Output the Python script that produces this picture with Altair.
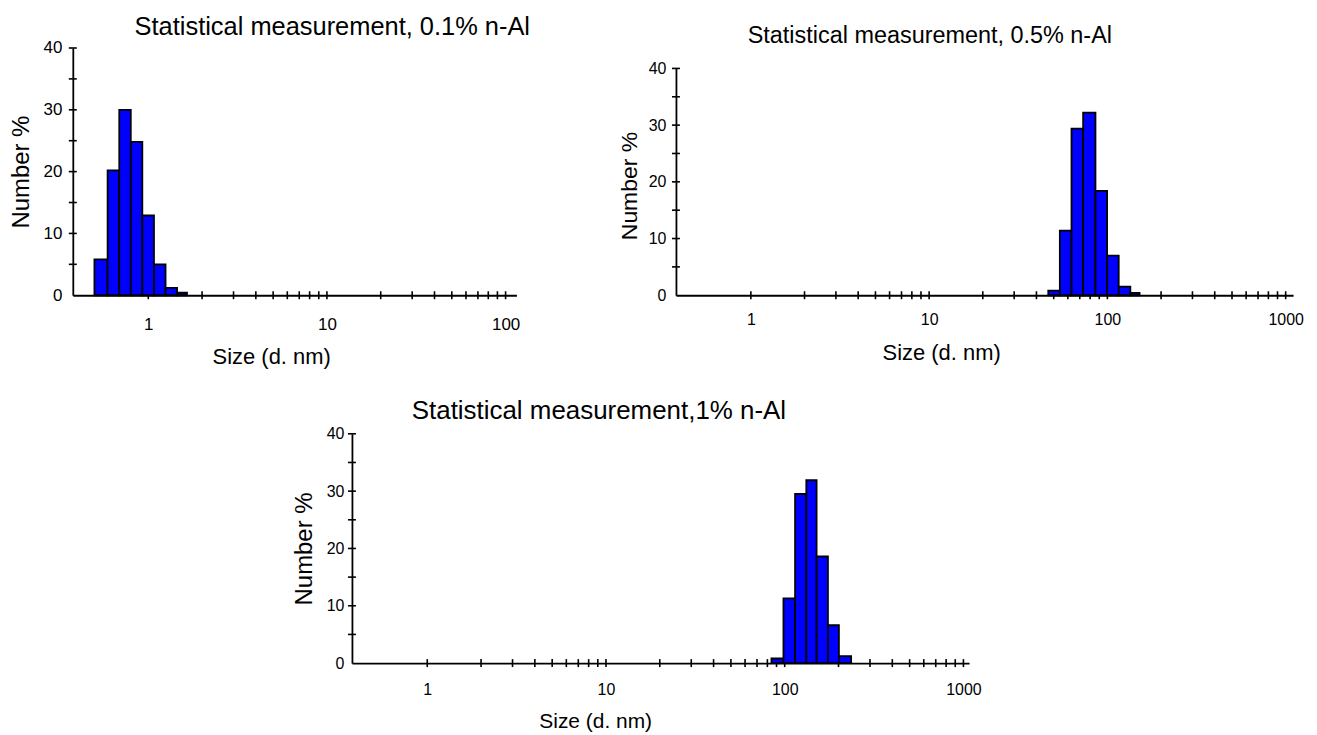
import altair as alt
import pandas as pd

FONT = "Liberation Sans"
BLUE = "#0000ff"

# ---- data ----
titles = [
    "Statistical measurement, 0.1% n-Al",
    "Statistical measurement, 0.5% n-Al",
    "Statistical measurement,1% n-Al",
]
# bin edges (d. nm) and Number % per bin
p1_edges = [0.4995, 0.592, 0.688, 0.798, 0.926, 1.076, 1.249, 1.449, 1.647]
p1_number = [5.8, 20.2, 30.0, 24.8, 12.9, 5.0, 1.2, 0.4]
p2_edges = [46.6, 54.1, 62.9, 73.1, 85.7, 99.6, 115.7, 134.5, 151.5]
p2_number = [0.8, 11.4, 29.4, 32.2, 18.4, 7.0, 1.5, 0.4]
p3_edges = [84.3, 98.4, 114.3, 132.1, 150.8, 174.5, 201.0, 235.3]
p3_number = [0.8, 11.3, 29.5, 31.9, 18.6, 6.6, 1.2]

x_domain_1 = [0.378, 115]
x_domain_2 = [0.38, 1100]
x_domain_3 = [0.379, 1075]

x_labels_1 = [1, 10, 100]
x_labels_2 = [1, 10, 100, 1000]
x_ticks_1 = [1, 2, 3, 4, 5, 6, 7, 8, 9, 10, 20, 30, 40, 50, 60, 70, 80, 90, 100]
x_ticks_2 = x_ticks_1 + [200, 300, 400, 500, 600, 700, 800, 900, 1000]
y_labels = [0, 10, 20, 30, 40]
y_ticks = [5, 10, 15, 20, 25, 30, 35, 40]


def panel(edges, number, x_domain, x_labels, x_ticks, width, height, y_range,
          title, t_dx, t_off, t_dy, t_size,
          xl_pad, xt_x, xt_y, xt_size, yl_pad, yt_x, yt_y, yt_size, lab_size):
    df = pd.DataFrame({"lo": edges[:-1], "hi": edges[1:], "n": number})
    xs = alt.Scale(type="log", domain=x_domain, nice=False)
    if y_range is None:
        ys = alt.Scale(domain=[0, 40], nice=False, zero=True)
    else:
        ys = alt.Scale(domain=[0, 40], nice=False, zero=True, range=y_range)

    x_axis = alt.Axis(
        values=x_labels, format="d", ticks=False, grid=False,
        domain=True, domainColor="black", domainWidth=1.8,
        labelFontSize=lab_size, labelPadding=xl_pad, labelColor="black",
        labelFont=FONT, labelFlush=False,
        title="Size (d. nm)", titleFont=FONT, titleFontSize=xt_size,
        titleFontWeight="normal", titleColor="black",
        titleX=xt_x, titleY=xt_y, titleAlign="center", titleBaseline="middle",
    )
    y_axis = alt.Axis(
        values=y_labels, format="d", ticks=False, grid=False,
        domain=True, domainColor="black", domainWidth=1.8,
        labelFontSize=lab_size, labelPadding=yl_pad, labelColor="black",
        labelFont=FONT,
        title="Number %", titleFont=FONT, titleFontSize=yt_size,
        titleFontWeight="normal", titleColor="black",
        titleX=yt_x, titleY=yt_y, titleAngle=270, titleAlign="center",
        titleBaseline="middle",
    )

    bars = alt.Chart(df).mark_rect(
        fill=BLUE, stroke="black", strokeWidth=1.8
    ).encode(
        x=alt.X("lo:Q", scale=xs, axis=x_axis),
        x2="hi:Q",
        y=alt.Y("n:Q", scale=ys, axis=y_axis),
        y2=alt.Y2(datum=0),
    )
    xt = alt.Chart(pd.DataFrame({"v": x_ticks})).mark_tick(
        orient="vertical", size=8, thickness=1.6, color="black", opacity=1
    ).encode(
        x=alt.X("v:Q", scale=xs, axis=x_axis),
        y=alt.Y(datum=0, type="quantitative", scale=ys, axis=y_axis),
    )
    yt = alt.Chart(pd.DataFrame({"v": y_ticks})).mark_tick(
        orient="horizontal", size=8, thickness=1.6, color="black", opacity=1
    ).encode(
        y=alt.Y("v:Q", scale=ys, axis=y_axis),
        x=alt.X(datum=x_domain[0], type="quantitative", scale=xs, axis=x_axis),
    )
    return alt.layer(xt, yt, bars).properties(
        width=width, height=height,
        title=alt.TitleParams(
            text=title, anchor="start", dx=t_dx, dy=t_dy, offset=t_off,
            frame="group", baseline="alphabetic", fontSize=t_size,
            fontWeight="normal", font=FONT, color="black",
        ),
    )


p1 = panel(p1_edges, p1_number, x_domain_1, x_labels_1, x_ticks_1,
           445, 248, None, titles[0], 62, 11, 32, 25.5,
           21, 199, 61, 22, 11, -51, 124, 24, 17)
p2 = panel(p2_edges, p2_number, x_domain_2, x_labels_2, x_ticks_2,
           619, 248, [248, 20.5], titles[1], 72, 3, 21, 23.5,
           16, 266, 57, 22, 10, -47, 138, 23, 16)
p3 = panel(p3_edges, p3_number, x_domain_3, x_labels_2, x_ticks_2,
           619, 230, None, titles[2], 60, 12.7, 32, 26,
           18, 244, 59, 21, 8, -48, 115, 24, 16)

spacer = alt.Chart(pd.DataFrame({"v": [0]})).mark_point(opacity=0).encode(
    x=alt.X("v:Q", axis=None), y=alt.Y("v:Q", axis=None)
).properties(width=280, height=10)

row1 = alt.hconcat(p1, p2, spacing=160, bounds="flush")
row2 = alt.hconcat(spacer, p3, spacing=0, bounds="flush")

chart = alt.vconcat(row1, row2, spacing=31).properties(
    padding={"left": 2, "top": 5, "right": 5, "bottom": 0}
).configure(font=FONT).configure_view(stroke=None)

chart.save("out.html", embed_options={"renderer": "svg", "actions": False})
